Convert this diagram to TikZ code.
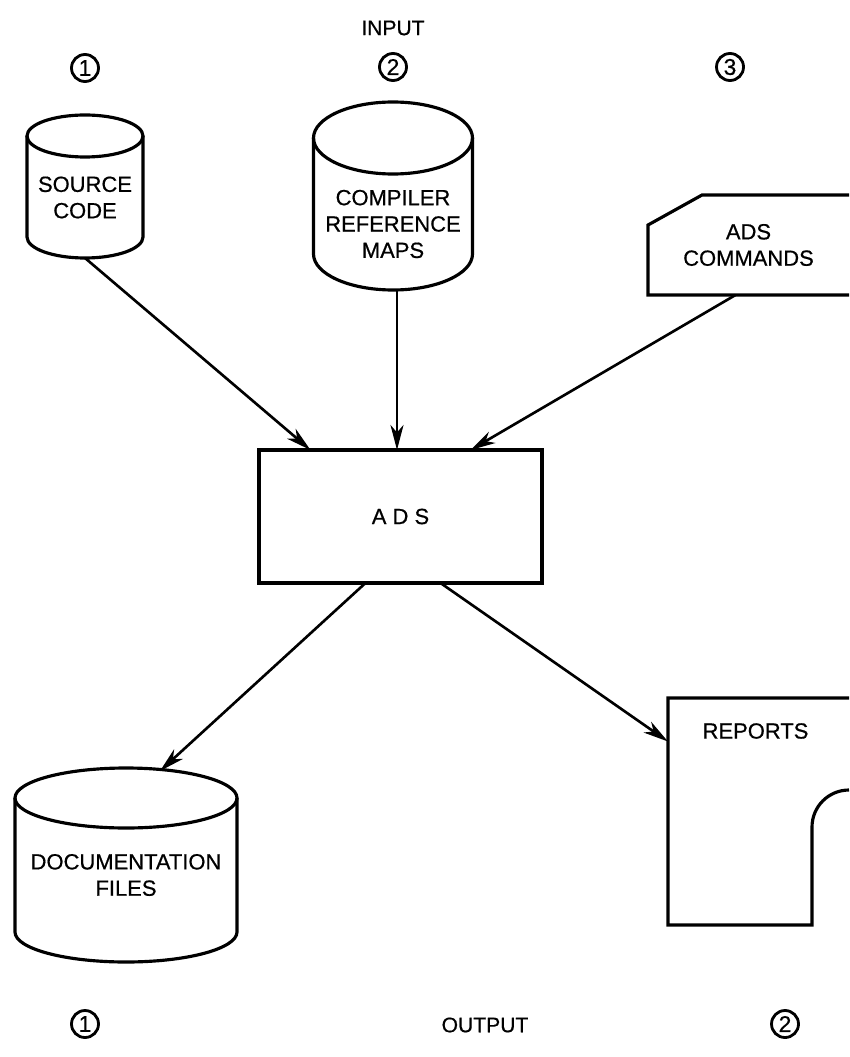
\documentclass[tikz,border=0pt]{standalone}
\usepackage{fontspec}
\setmainfont{Liberation Sans}
\newfontfamily\letterfont{Liberation Sans}[FakeBold=0.6]
\usepackage{tikz}
\usetikzlibrary{arrows.meta, positioning, calc}
\newdimen\px \px=0.02cm
% outline of a storage drum round node #1, cap height #2 (px)
\newcommand{\drum}[2]{%
  \draw[shp] let \p1=(#1.north west), \p2=(#1.south east), \n1={(\x2-\x1)/2} in
    ($(#1.north west)+(0,#2)$) -- ($(#1.south west)+(0,-#2)$)
    arc[start angle=180, end angle=360, x radius=\n1, y radius=#2\px]
    -- ($(#1.north east)+(0,#2)$);
  \draw[shp] let \p1=(#1.north west), \p2=(#1.south east), \n1={(\x2-\x1)/2} in
    ($(#1.north)+(0,#2)$) ellipse[x radius=\n1, y radius=#2\px];
}

\begin{document}
\begin{tikzpicture}[x=0.02cm, y=-0.02cm,
      shp/.style={line width=1.8pt},
      area/.style={inner sep=0pt, outer sep=0pt, align=center, font=\letterfont\fontsize{12.5}{15}\selectfont},
      num/.style={draw, circle, line width=1.6pt, minimum size=27\px, inner sep=0pt, font=\letterfont\fontsize{13}{14}\selectfont},
      lbl/.style={font=\letterfont\fontsize{12}{14}\selectfont},
      arr/.style={-{Stealth[length=5mm, width=2.6mm, inset=1.5mm]}, line width=1.5pt}
    ]
    \useasboundingbox (0,0) rectangle (849,1057);

    % inputs
    \node[lbl] (input) at (393,28) {INPUT};
    \node[num] (in1) at (85,68) {1};
    \node[num] (in2) at (393,67) {2};
    \node[num] (in3) at (730,67) {3};

    \node[area, minimum width=116\px, minimum height=143\px,
      label={[area, yshift=-11\px]center:SOURCE\\CODE}] (src) at (85,186.5) {};
    \node[area, minimum width=159\px, minimum height=188\px,
      label={[area, yshift=-28\px]center:COMPILER\\REFERENCE\\MAPS}] (cmp) at (393,196) {};
    \node[area, minimum width=201\px, minimum height=100\px] (cmd) at (748.5,245) {ADS\\COMMANDS};
    \drum{src}{21}
    \drum{cmp}{36}
    \draw[shp] (cmd.north east) -- ($(cmd.north west)+(54,0)$) -- ($(cmd.north west)+(0,30)$)
      -- (cmd.south west) -- (cmd.south east);

    % processor
    \node[area, draw, shp, minimum width=283\px, minimum height=133\px] (ads) at (400.5,516.5) {A D S};

    \draw[arr] (src.south) -- ($(ads.north)+(-90,0)$);
    \draw[arr] ($(cmp.south)+(4,0)$) -- ($(ads.north)+(-3.5,0)$);
    \draw[arr] ($(cmd.south)+(-13,0)$) -- ($(ads.north)+(70,0)$);

    % outputs
    \node[area, minimum width=222\px, minimum height=194\px,
      label={[area, yshift=-10\px]center:DOCUMENTATION\\FILES}] (doc) at (126,865) {};
    \drum{doc}{30}
    \node[area, minimum width=181\px, minimum height=227\px] (rep) at (758.5,811.5) {};
    \node[area] (rep-txt) at ($(rep.north)+(-3,33)$) {REPORTS};
    \draw[shp] (rep.north east) -- (rep.north west) -- (rep.south west)
      -- ($(rep.south east)+(-37,0)$) -- ($(rep.north east)+(-37,129)$)
      arc[start angle=180, end angle=90, radius=37\px];

    \draw[arr] ($(ads.south)+(-35,0)$) -- ($(doc.north)+(34,3)$);
    \draw[arr] ($(ads.south)+(40,0)$) -- ($(rep.west)+(0,-70)$);

    \node[num] (out1) at (85,1024) {1};
    \node[lbl] (output) at (485,1025) {OUTPUT};
    \node[num] (out2) at (785,1024) {2};
  \end{tikzpicture}
\end{document}
